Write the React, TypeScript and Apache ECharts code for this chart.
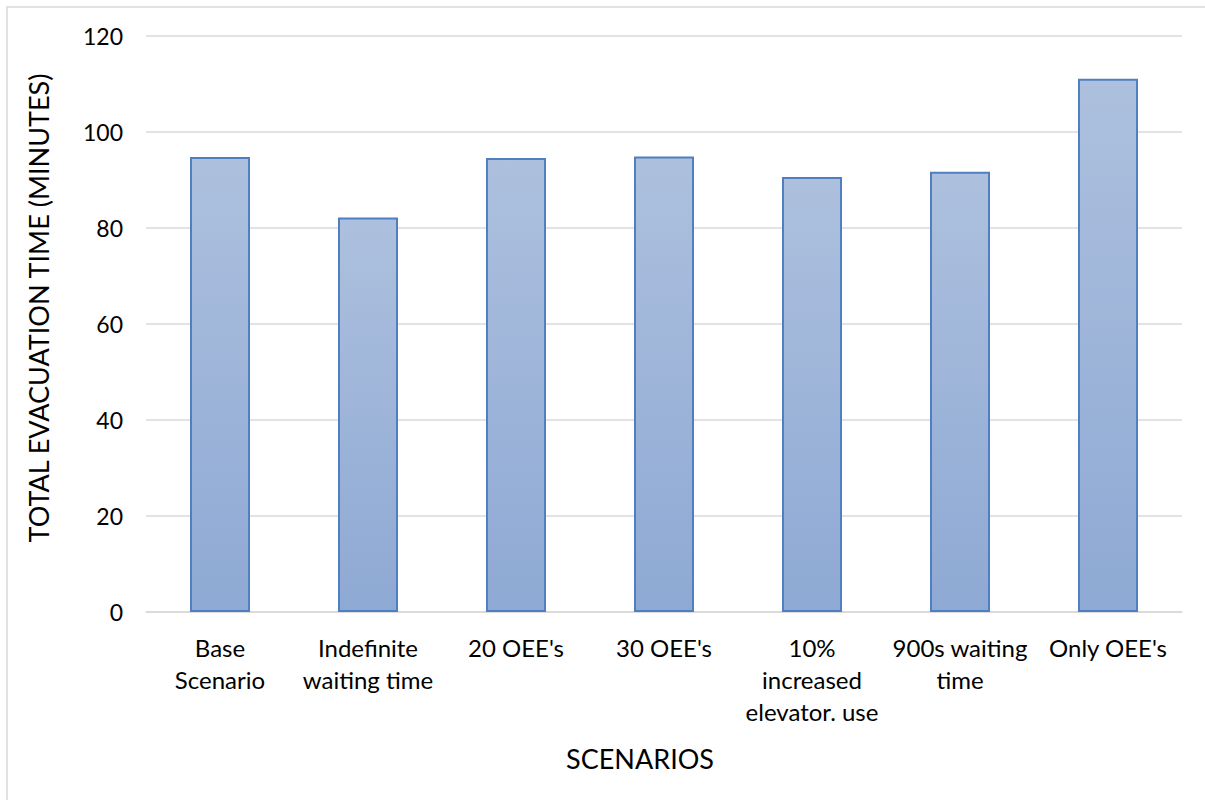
import React, { useEffect, useRef } from "react";
import * as echarts from "echarts";

// Scenario names (line breaks as laid out under each bar)
const scenarios = [
  "Base\nScenario",
  "Indefinite\nwaiting time",
  "20 OEE's",
  "30 OEE's",
  "10%\nincreased\nelevator. use",
  "900s waiting\ntime",
  "Only OEE's",
];

// Total evacuation time per scenario, in minutes
const evacuationMinutes = [94.8, 82.2, 94.6, 94.9, 90.6, 91.7, 111.1];

const yTicks = { min: 0, max: 120, interval: 20 };

const FONT = "Lato, 'Open Sans', sans-serif";

export default function App() {
  const ref = useRef<HTMLDivElement>(null);

  useEffect(() => {
    document.body.style.margin = "0";
    if (!ref.current) return;
    const chart = echarts.init(ref.current, undefined, { renderer: "svg" });
    chart.setOption({
      animation: false,
      backgroundColor: "#ffffff",
      textStyle: { fontFamily: FONT },
      grid: { left: 146, right: 23, top: 36, bottom: 188, containLabel: false },
      graphic: [
        {
          type: "rect",
          shape: { x: 7, y: 7, width: 1300, height: 900 },
          style: { fill: "none", stroke: "#d9d9d9", lineWidth: 1.5 },
          silent: true,
        },
        {
          type: "text",
          x: 640,
          y: 758,
          style: {
            text: "SCENARIOS",
            fontFamily: FONT,
            fontSize: 27,
            fill: "#000000",
            align: "center",
            verticalAlign: "middle",
          },
        },
        {
          type: "text",
          x: 38,
          y: 308,
          rotation: Math.PI / 2,
          style: {
            text: "TOTAL EVACUATION TIME (MINUTES)",
            fontFamily: FONT,
            fontSize: 27,
            fill: "#000000",
            align: "center",
            verticalAlign: "middle",
          },
        },
      ],
      xAxis: {
        type: "category",
        data: scenarios,
        axisLine: { show: true, lineStyle: { color: "#d9d9d9", width: 1.5 } },
        axisTick: { show: false },
        axisLabel: {
          interval: 0,
          margin: 19,
          fontFamily: FONT,
          fontSize: 24,
          lineHeight: 32,
          color: "#000000",
          align: "center",
        },
      },
      yAxis: {
        type: "value",
        min: yTicks.min,
        max: yTicks.max,
        interval: yTicks.interval,
        axisLine: { show: false },
        axisTick: { show: false },
        splitLine: { lineStyle: { color: "#d9d9d9", width: 1.5 } },
        axisLabel: {
          margin: 23,
          fontFamily: FONT,
          fontSize: 23,
          color: "#000000",
        },
      },
      series: [
        {
          type: "bar",
          data: evacuationMinutes,
          barWidth: 60,
          itemStyle: {
            color: new echarts.graphic.LinearGradient(0, 0, 0, 1, [
              { offset: 0, color: "#adc0de" },
              { offset: 1, color: "#8ea9d4" },
            ]),
            borderColor: "#4f7fc0",
            borderWidth: 2,
          },
        },
      ],
    });
    return () => chart.dispose();
  }, []);

  return <div ref={ref} style={{ width: 1205, height: 800 }} />;
}
